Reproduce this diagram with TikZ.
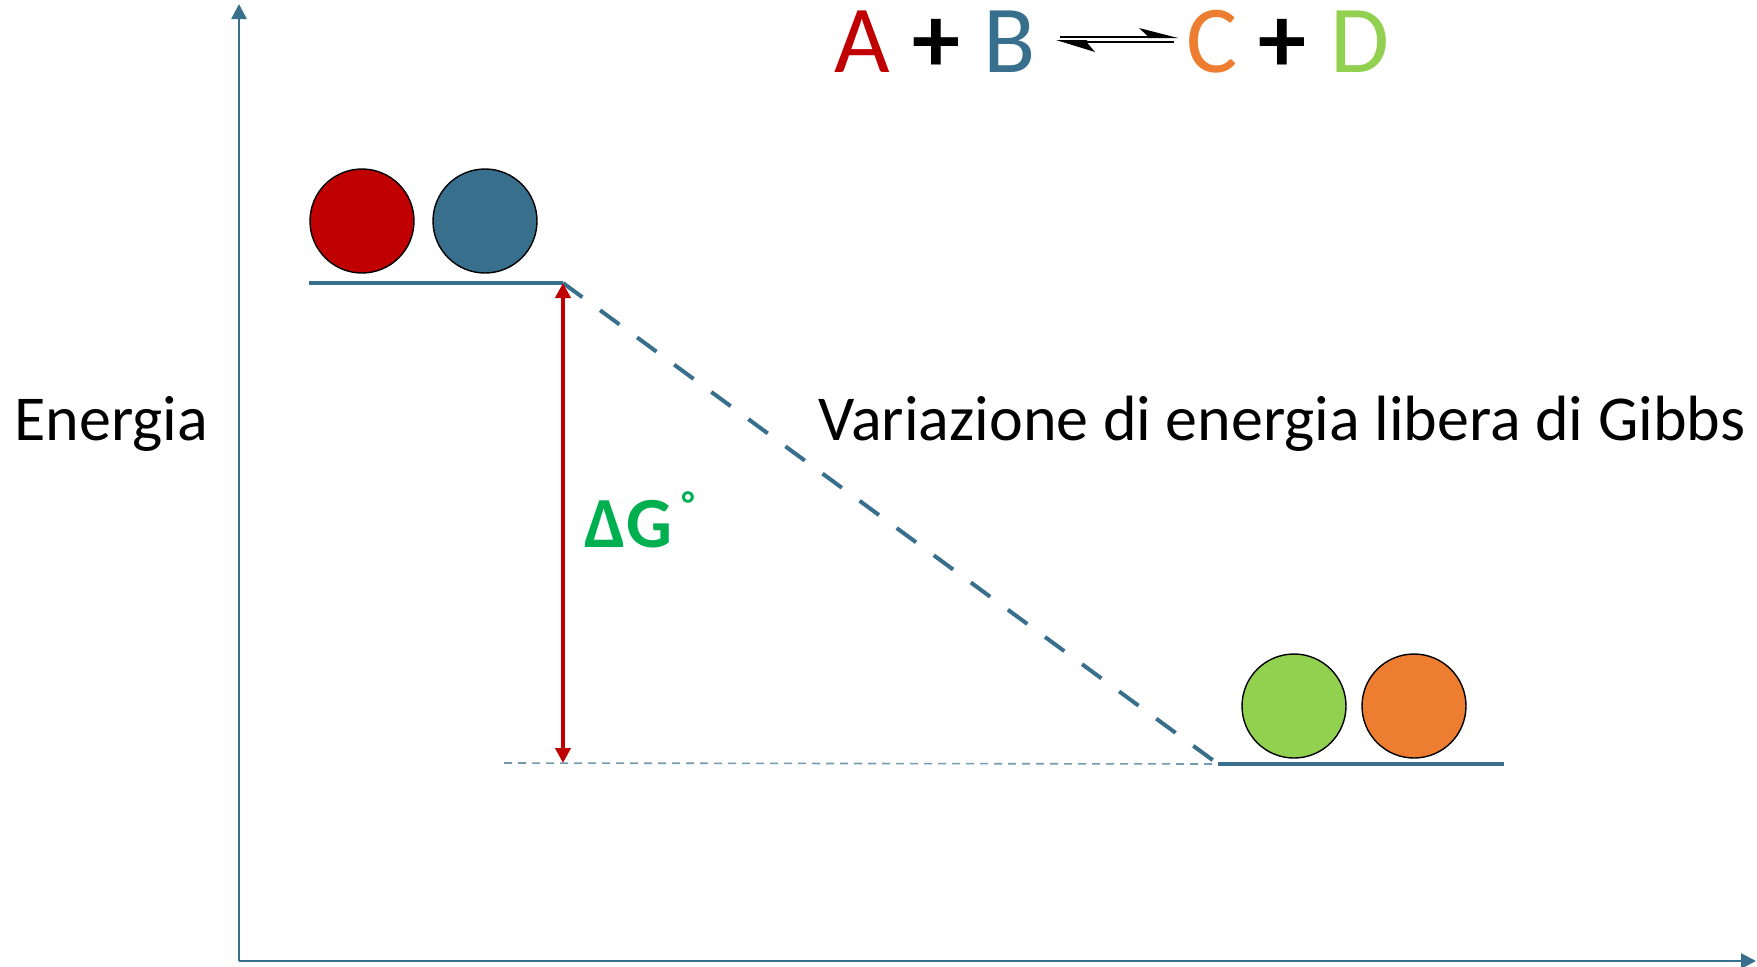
\documentclass[tikz,border=0pt]{standalone}
\usepackage{fontspec}
\setmainfont{Carlito}
\usetikzlibrary{arrows.meta}
\definecolor{axblue}{HTML}{376F8D}
\definecolor{cred}{HTML}{C00000}
\definecolor{cgreen}{HTML}{92D050}
\definecolor{corange}{HTML}{ED7D31}
\definecolor{dgreen}{HTML}{00B050}
\tikzset{
  axisline/.style={axblue, line width=1.3pt, -{Triangle[length=7.5pt,width=7.5pt]}},
  level/.style={axblue, line width=2pt},
  ball/.style={circle, draw=black, line width=0.7pt, minimum size=52pt, inner sep=0pt},
  lbl/.style={inner sep=0pt, font=\fontsize{32}{36}\selectfont},
  eqn/.style={inner sep=0pt, anchor=base, font=\fontsize{48}{55}\selectfont},
}
\begin{document}
\begin{tikzpicture}[x=0.5pt,y=-0.5pt]
\useasboundingbox (0,0) rectangle (1757,966);
% axes
\coordinate (O) at (239,961);
\coordinate (ytop) at (239,4);
\coordinate (xend) at (1756,961);
\draw[axisline] (O) -- (ytop);
\draw[axisline] (O) -- (xend);
% levels
\coordinate (u1) at (309,283);
\coordinate (u2) at (563,283);
\coordinate (l1) at (1218,764);
\coordinate (l2) at (1504,764);
\coordinate (d1) at (504,763);
\coordinate (d2) at (563,763);
\draw[level] (u1) -- (u2);
\draw[level] (l1) -- (l2);
\draw[axblue!70, line width=0.8pt, dash pattern=on 4pt off 3pt] (d1) -- (l1);
\draw[axblue, line width=2pt, dash pattern=on 12pt off 11pt] (u2) -- (l1);
% Delta G arrow
\draw[cred, line width=2pt, {Triangle[length=7.5pt,width=7.5pt]}-{Triangle[length=7.5pt,width=7.5pt]}] (u2) -- (d2);
% balls
\node[ball, fill=cred] (a) at (362,221) {};
\node[ball, fill=axblue] (b) at (485,221) {};
\node[ball, fill=cgreen] (c) at (1294,706) {};
\node[ball, fill=corange] (d) at (1414,706) {};
% labels
\node[lbl, anchor=base west] (en) at (14,440) {Energia};
\node[lbl, anchor=base west] (var) at (818,440) {Variazione di energia libera di Gibbs};
\node[inner sep=0pt, anchor=base west, text=dgreen, font=\fontsize{36}{40}\selectfont\bfseries] (dg) at (584,547) {ΔG\hspace{5pt}\raisebox{0.42em}{\fontsize{18}{20}\selectfont°}};
% equation
\node[eqn, text=cred] (eA) at (862,72) {A};
\node[eqn] (p1) at (936,72) {\textbf{+}};
\node[eqn, text=axblue] (eB) at (1010,72) {B};
\node[eqn, text=corange] (eC) at (1212,72) {C};
\node[eqn] (p2) at (1282,72) {\textbf{+}};
\node[eqn, text=cgreen] (eD) at (1360,72) {D};
% equilibrium harpoons
\coordinate (h1) at (1060,36.5);
\coordinate (h2) at (1162,36.5);
\coordinate (k1) at (1072,41.5);
\coordinate (k2) at (1174,41.5);
\draw[black, line width=1pt] (h1) -- (h2);
\fill[black] (1178,38) -- (1139,28) -- (1147,35.5) -- (1147,38) -- cycle;
\draw[black, line width=1pt] (k1) -- (k2);
\fill[black] (1056,40) -- (1095,52) -- (1087,42.5) -- (1087,40) -- cycle;
\end{tikzpicture}
\end{document}
